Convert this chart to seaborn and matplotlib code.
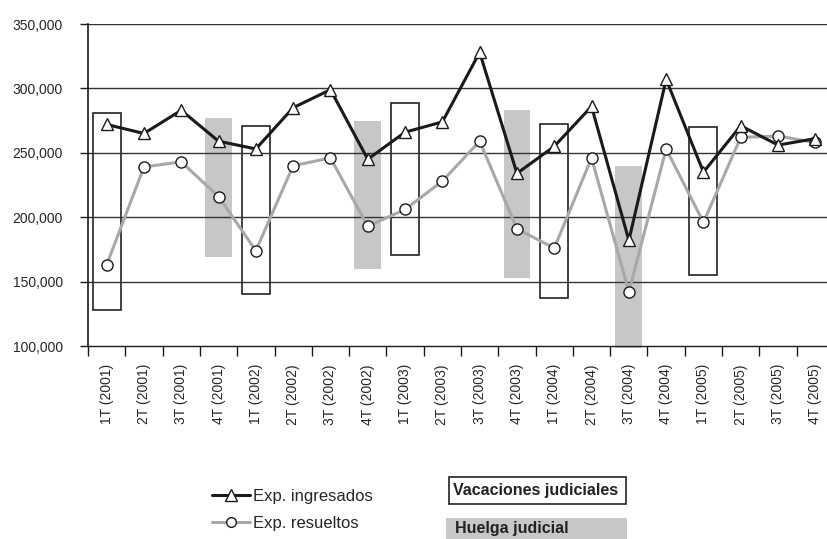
import seaborn as sns
import pandas as pd
import matplotlib.pyplot as plt
from matplotlib.lines import Line2D
from matplotlib.patches import Rectangle

# Quarterly data 2001-2005
quarters = ['1T (2001)', '2T (2001)', '3T (2001)', '4T (2001)',
            '1T (2002)', '2T (2002)', '3T (2002)', '4T (2002)',
            '1T (2003)', '2T (2003)', '3T (2003)', '4T (2003)',
            '1T (2004)', '2T (2004)', '3T (2004)', '4T (2004)',
            '1T (2005)', '2T (2005)', '3T (2005)', '4T (2005)']
ingresados = [272000, 265000, 283000, 259000, 253000, 285000, 299000, 245000,
              266000, 274000, 328000, 234000, 255000, 286000, 182000, 307000,
              235000, 271000, 256000, 261000]
resueltos = [163000, 239000, 243000, 216000, 174000, 240000, 246000, 193000,
             206000, 228000, 259000, 191000, 176000, 246000, 142000, 253000,
             196000, 262000, 263000, 258000]

# Vacaciones judiciales (outlined boxes): quarter index, low, high
vac_idx = [0, 4, 8, 12, 16]
vac_low = [128000, 140000, 171000, 137000, 155000]
vac_high = [281000, 271000, 289000, 272000, 270000]

# Huelga judicial (gray boxes)
huelga_idx = [3, 7, 11, 14]
huelga_low = [169000, 160000, 153000, 98500]
huelga_high = [277000, 275000, 283000, 240000]

yticks = [100000, 150000, 200000, 250000, 300000, 350000]

df = pd.DataFrame({'q': range(len(quarters)),
                   'ingresados': ingresados,
                   'resueltos': resueltos})

sns.set_style('white')
plt.rcParams['font.family'] = ['Liberation Sans', 'DejaVu Sans']

fig = plt.figure(figsize=(8.28, 5.39), dpi=100)
ax = fig.add_axes([88 / 828, 1 - 346 / 539, 746 / 828, 322 / 539])

black = '#1a1a1a'
gray = '#a8a8a8'
boxgray = '#c7c7c9'

# boxes
ax.bar(vac_idx, [h - l for h, l in zip(vac_high, vac_low)], bottom=vac_low,
       width=0.75, facecolor='none', edgecolor='#222222', linewidth=1.2,
       zorder=0.8)
ax.bar(huelga_idx, [h - l for h, l in zip(huelga_high, huelga_low)],
       bottom=huelga_low, width=0.72, color=boxgray, linewidth=0,
       zorder=0.7, clip_on=False)

for y in yticks[1:]:
    ax.axhline(y, color='#333333', linewidth=1.0, zorder=1)

sns.lineplot(data=df, x='q', y='resueltos', ax=ax, color=gray, linewidth=2.2,
             marker='o', markersize=8, markerfacecolor='white',
             markeredgecolor=black, markeredgewidth=1.0, zorder=3)
sns.lineplot(data=df, x='q', y='ingresados', ax=ax, color=black,
             linewidth=2.2, marker='^', markersize=9,
             markerfacecolor='white', markeredgecolor=black,
             markeredgewidth=1.0, zorder=4)

ax.set_xlim(-0.5, len(quarters) - 0.5)
ax.set_ylim(100000, 350000)
ax.set_yticks(yticks)
ax.set_yticklabels([f'{v:,}' for v in yticks], fontsize=10)
ax.tick_params(axis='y', direction='out', length=6, width=1.0,
               color=black, pad=12, left=True)

ax.set_xticks([i - 0.5 for i in range(len(quarters) + 1)])
ax.set_xticklabels([])
ax.set_xticks(range(len(quarters)), minor=True)
ax.set_xticklabels(quarters, minor=True, rotation=90, fontsize=10)
ax.tick_params(axis='x', which='major', direction='out', length=7,
               width=1.0, color=black, bottom=True)
ax.tick_params(axis='x', which='minor', length=0, pad=13)
ax.set_xlabel('')
ax.set_ylabel('')

sns.despine(ax=ax, top=True, right=True)
ax.spines['left'].set_color(black)
ax.spines['bottom'].set_color(black)
ax.spines['left'].set_linewidth(1.2)
ax.spines['bottom'].set_linewidth(1.0)

# legend for the series
handles = [Line2D([], [], color=black, linewidth=2.2, marker='^',
                  markersize=8, markerfacecolor='white',
                  markeredgecolor=black),
           Line2D([], [], color=gray, linewidth=2.2, marker='o',
                  markersize=7, markerfacecolor='white',
                  markeredgecolor=black)]
fig.legend(handles, ['Exp. ingresados', 'Exp. resueltos'],
           loc='center left', bbox_to_anchor=(205 / 828, 1 - 510 / 539),
           frameon=False, fontsize=12, handlelength=2.3,
           handletextpad=0.2, labelspacing=0.75, borderaxespad=0)

# legend boxes for the periods
fig.patches.append(Rectangle((449 / 828, 1 - 504 / 539), 177 / 828,
                             27 / 539, transform=fig.transFigure,
                             facecolor='white', edgecolor='#222222',
                             linewidth=1.2))
fig.text(453 / 828, 1 - 491 / 539, 'Vacaciones judiciales', fontsize=11.5,
         fontweight='bold', color='#222222', va='center', ha='left')
fig.patches.append(Rectangle((446 / 828, 1 - 545 / 539), 181 / 828,
                             27 / 539, transform=fig.transFigure,
                             facecolor=boxgray, edgecolor='none'))
fig.text(455 / 828, 1 - 529 / 539, 'Huelga judicial', fontsize=11.5,
         fontweight='bold', color='#222222', va='center', ha='left')

fig.savefig('out.png', dpi=100)
